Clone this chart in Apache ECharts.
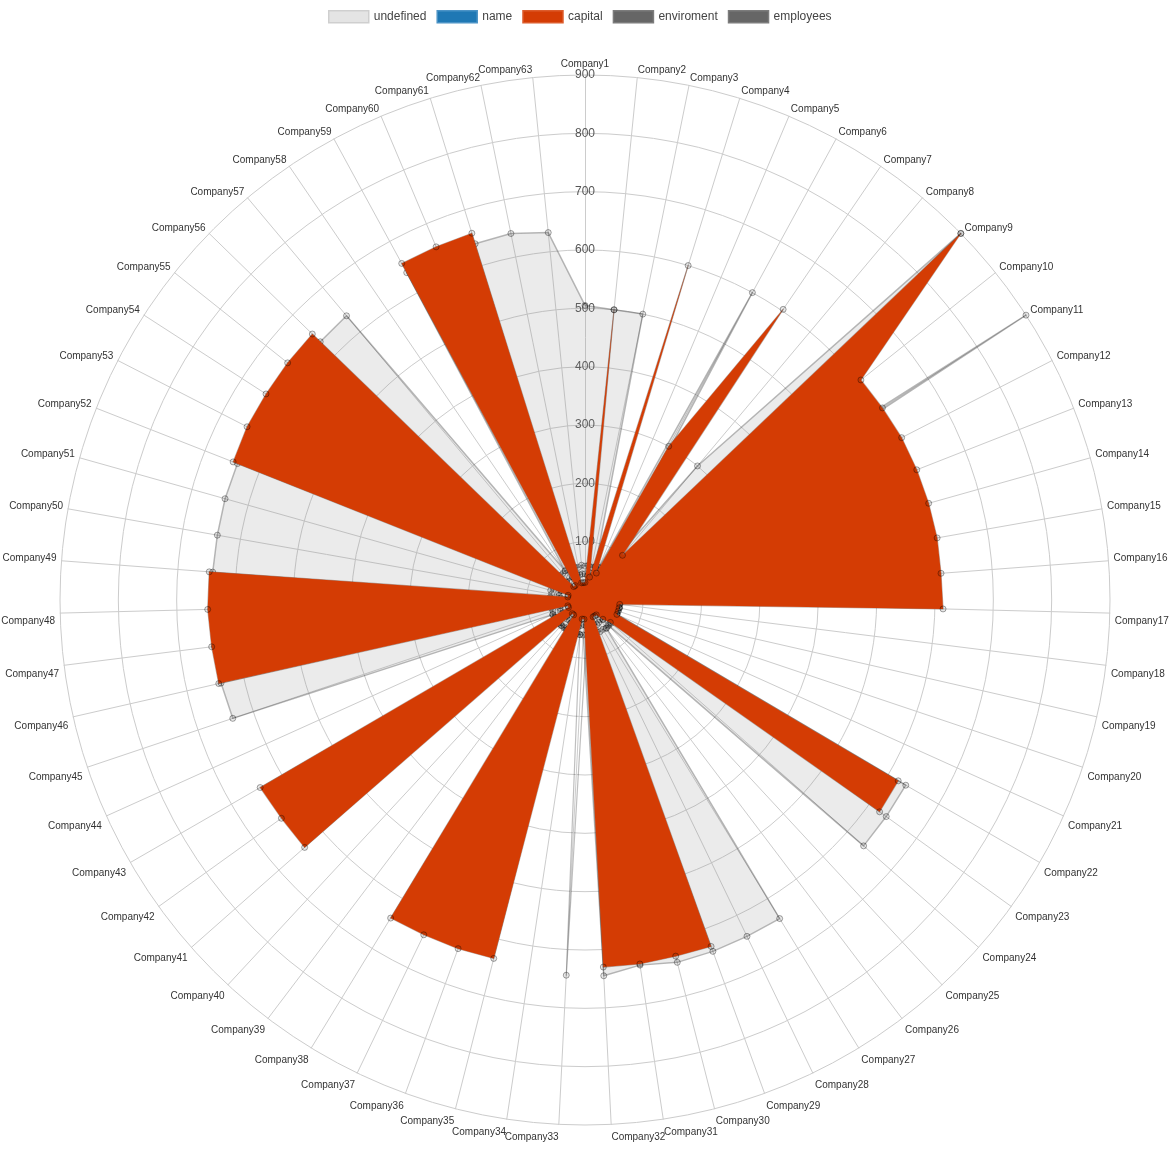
<!DOCTYPE html>
<html>
<head>
<meta charset="utf-8">
<script src="https://cdn.jsdelivr.net/npm/echarts@6/dist/echarts.min.js"></script>
<style>
html,body{margin:0;padding:0;background:#ffffff;}
#chart{width:1170px;height:1170px;}
</style>
</head>
<body>
<div id="chart"></div>
<script>
// ---- data (Company1 .. Company63, clockwise from top) ----
const companies = [
  'Company1','Company2','Company3','Company4','Company5','Company6','Company7','Company8','Company9','Company10',
  'Company11','Company12','Company13','Company14','Company15','Company16','Company17','Company18','Company19','Company20',
  'Company21','Company22','Company23','Company24','Company25','Company26','Company27','Company28','Company29','Company30',
  'Company31','Company32','Company33','Company34','Company35','Company36','Company37','Company38','Company39','Company40',
  'Company41','Company42','Company43','Company44','Company45','Company46','Company47','Company48','Company49','Company50',
  'Company51','Company52','Company53','Company54','Company55','Company56','Company57','Company58','Company59','Company60',
  'Company61','Company62','Company63'
];

const capitalValues = [
  30, 500, 40, 600, 50, 300, 603, 100, 900, 605,
  607, 610, 611, 612, 613, 612, 614, 60, 60, 60,
  60, 620, 622, 58, 45, 32, 32, 32, 632, 630,
  631, 630, 33, 33, 634, 636, 637, 639, 32, 32,
  641, 641, 643, 31, 31, 644, 645, 647, 646, 30,
  30, 648, 651, 651, 652, 653, 30, 30, 657, 657,
  658, 30, 30
];

const undefinedValues = [
  505, 500, 500, 60, 60, 600, 60, 300, 900, 60,
  900, 60, 60, 60, 60, 60, 60, 60, 60, 60,
  60, 635, 636, 637, 60, 60, 640, 640, 641, 641,
  633, 645, 60, 60, 60, 60, 60, 60, 60, 60,
  60, 60, 60, 60, 637, 640, 640, 640, 640, 640,
  641, 640, 640, 640, 640, 634, 636, 60, 639, 639,
  639, 641, 633
];

const enviromentValues = [
  58, 60, 57, 59, 61, 58, 60, 59, 57, 60,
  58, 61, 59, 60, 58, 57, 60, 59, 61, 58,
  60, 59, 57, 60, 58, 61, 59, 60, 58, 57,
  60, 59, 644, 60, 58, 59, 61, 60, 58, 59,
  60, 57, 59, 61, 58, 60, 59, 57, 60, 58,
  61, 59, 60, 58, 57, 60, 59, 61, 58, 60,
  59, 57, 60
];

const employeesValues = [
  45, 42, 47, 44, 46, 43, 45, 48, 44, 42,
  46, 45, 43, 47, 44, 45, 42, 46, 44, 45,
  47, 43, 45, 44, 46, 42, 45, 47, 43, 44,
  46, 45, 42, 44, 47, 45, 43, 46, 44, 45,
  42, 47, 44, 46, 45, 43, 44, 46, 42, 45,
  47, 44, 43, 46, 45, 44, 42, 47, 45, 43,
  46, 44, 45
];

const nameValues = [];

const axisMax = 900;
const axisSplits = 9;
const legendNames = ['undefined', 'name', 'capital', 'enviroment', 'employees'];
const legendColors = {
  'undefined': ['#e4e4e4', '#cfcfcf'],
  'name': ['#1f78b4', '#4b93c6'],
  'capital': ['#d43c04', '#dc5c2c'],
  'enviroment': ['#666666', '#7c7c7c'],
  'employees': ['#666666', '#7c7c7c']
};

// ECharts radar runs counter-clockwise; reorder so Company1..63 read clockwise
const order = companies.map((_, i) => i === 0 ? 0 : companies.length - i);
const reorder = arr => order.map(k => arr[k]);

const FONT = 'Liberation Sans, Arial, sans-serif';

const indicators = order.map((origIdx, k) => {
  const ind = { name: companies[origIdx], min: 0, max: axisMax };
  const ang = origIdx * 360 / companies.length;
  const lower = ang > 90 && ang < 270;
  ind.nameTextStyle = lower
    ? { verticalAlign: 'top', lineHeight: 16 }
    : { verticalAlign: 'bottom', padding: [0, 0, -3, 0] };
  if (k === 0) {
    ind.axisLabel = {
      show: true, color: '#555', fontSize: 12, fontFamily: FONT,
      align: 'center', verticalAlign: 'middle', margin: 0, showMinLabel: false
    };
  }
  return ind;
});

const symStyle = { color: 'rgba(0,0,0,0.09)', borderColor: 'rgba(0,0,0,0.35)', borderWidth: 1 };

const option = {
  animation: false,
  backgroundColor: '#ffffff',
  legend: {
    left: 323, top: 5, padding: 5,
    itemWidth: 40, itemHeight: 12, itemGap: 10,
    icon: 'rect',
    textStyle: { color: '#444', fontSize: 12, fontFamily: FONT },
    data: legendNames.map(n => ({
      name: n,
      itemStyle: { color: legendColors[n][0], borderColor: legendColors[n][1], borderWidth: 1.5 }
    }))
  },
  radar: {
    center: [585, 600],
    radius: 525,
    startAngle: 90,
    shape: 'circle',
    splitNumber: axisSplits,
    nameGap: 5,
    axisName: { color: '#333', fontSize: 10, fontFamily: FONT },
    splitLine: { lineStyle: { color: '#cccccc', width: 1 } },
    splitArea: { show: false },
    axisLine: { lineStyle: { color: '#cccccc', width: 1 } },
    axisTick: { show: false },
    axisLabel: { show: false },
    indicator: indicators
  },
  series: [
    {
      name: 'undefined', type: 'radar', z: 2, symbol: 'circle', symbolSize: 6,
      itemStyle: symStyle,
      lineStyle: { color: 'rgba(0,0,0,0.28)', width: 1.5 },
      areaStyle: { color: 'rgba(140,140,140,0.25)' },
      data: [{ name: 'undefined', value: reorder(undefinedValues) }]
    },
    {
      name: 'enviroment', type: 'radar', z: 2, symbol: 'circle', symbolSize: 6,
      itemStyle: symStyle,
      lineStyle: { color: 'rgba(0,0,0,0.25)', width: 1.2 },
      data: [{ name: 'enviroment', value: reorder(enviromentValues) }]
    },
    {
      name: 'employees', type: 'radar', z: 2, symbol: 'circle', symbolSize: 6,
      itemStyle: symStyle,
      lineStyle: { color: 'rgba(0,0,0,0.25)', width: 1.2 },
      data: [{ name: 'employees', value: reorder(employeesValues) }]
    },
    {
      name: 'name', type: 'radar', z: 2,
      itemStyle: { color: '#1f78b4' },
      data: nameValues
    },
    {
      name: 'capital', type: 'radar', z: 3, symbol: 'circle', symbolSize: 6,
      itemStyle: symStyle,
      lineStyle: { color: 'rgba(60,20,0,0.35)', width: 1.2 },
      areaStyle: { color: '#d43c04', opacity: 1 },
      data: [{ name: 'capital', value: reorder(capitalValues) }]
    }
  ]
};

const chart = echarts.init(document.getElementById('chart'), null, { renderer: 'canvas' });
chart.setOption(option);
</script>
</body>
</html>
